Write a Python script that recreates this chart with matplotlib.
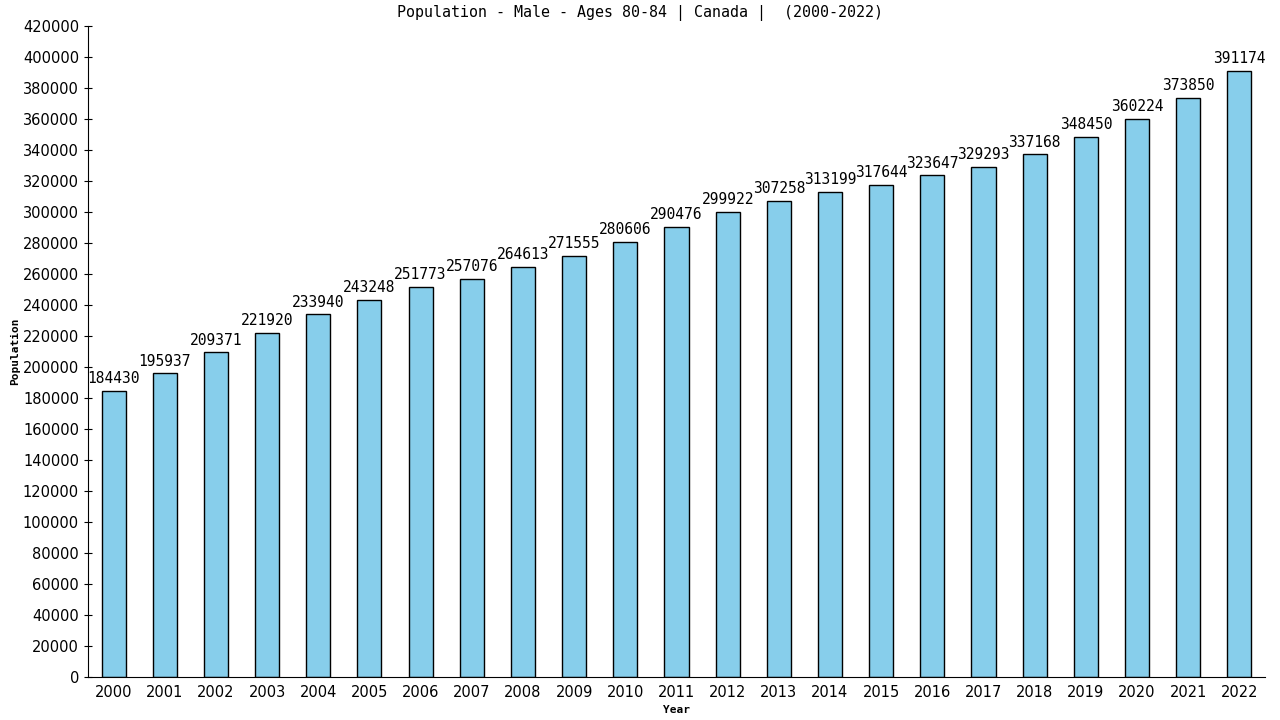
import matplotlib
matplotlib.use("Agg")
import matplotlib.pyplot as plt
import matplotlib.ticker as ticker

years = [str(y) for y in range(2000, 2023)]
population = [184430, 195937, 209371, 221920, 233940, 243248, 251773, 257076,
              264613, 271555, 280606, 290476, 299922, 307258, 313199, 317644,
              323647, 329293, 337168, 348450, 360224, 373850, 391174]

title = "Population - Male - Ages 80-84 | Canada |  (2000-2022)"

fig = plt.figure(figsize=(12.8, 7.2), dpi=100)
ax = fig.add_axes([0.06875, 0.0597, 0.9195, 0.9042])

x = list(range(len(years)))
ax.bar(x, population, width=0.47, color="#87ceeb", edgecolor="black", linewidth=1, zorder=2)

for xi, v in zip(x, population):
    ax.text(xi, v + 3000, str(v), ha="center", va="bottom",
            fontsize=10.5, family="DejaVu Sans Mono", zorder=3)

ax.set_xlim(-0.5, len(years) - 0.5)
ax.set_ylim(0, 420000)
ax.yaxis.set_major_locator(ticker.MultipleLocator(20000))
ax.set_xticks(x)
ax.set_xticklabels(years)

for s in ["top", "right"]:
    ax.spines[s].set_visible(False)
ax.tick_params(axis="y", direction="inout", length=6, labelsize=10.5)
ax.tick_params(axis="x", length=0, labelsize=10.5, pad=6)
for lab in ax.get_xticklabels() + ax.get_yticklabels():
    lab.set_family("DejaVu Sans")

ax.set_xlabel("Year", fontsize=8, fontweight="bold", family="DejaVu Sans Mono", labelpad=3)
ax.set_ylabel("Population", fontsize=8, fontweight="bold", family="DejaVu Sans Mono", labelpad=2)
fig.text(0.5, 0.982, title, ha="center", va="center", fontsize=10.8, family="DejaVu Sans Mono")

fig.savefig("out.png", dpi=100)
